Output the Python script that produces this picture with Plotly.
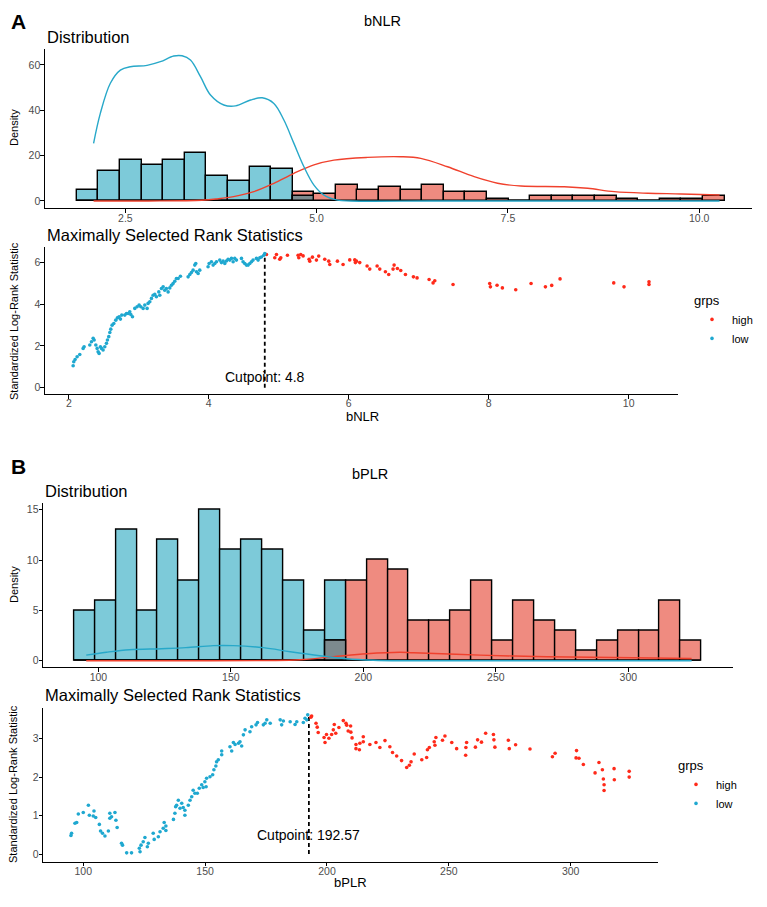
import plotly.graph_objects as go

W, H = 767, 907
OFF = 8                      # browser body margin
FW, FH = W - 2 * OFF, H - 2 * OFF

# ---------------- Panel A data (bNLR) ----------------
nlr_bin_centers = [2.006, 2.288, 2.571, 2.853, 3.135, 3.417, 3.699, 3.982, 4.264, 4.546,
                   4.828, 5.110, 5.393, 5.675, 5.957, 6.239, 6.521, 6.804, 7.086, 7.368,
                   7.650, 7.932, 8.215, 8.497, 8.779, 9.061, 9.343, 9.626, 9.908, 10.190]
nlr_bin_width = 0.2822
nlr_low_counts = [5, 13, 18, 16, 18, 21, 11, 9, 15, 14, 2, 0, 0, 0, 0, 0, 0, 0, 0, 0,
                  0, 0, 0, 0, 0, 0, 0, 0, 0, 0]
nlr_high_counts = [0, 0, 0, 0, 0, 0, 0, 0, 0, 0, 4, 3, 7, 5, 6, 5, 7, 4, 4, 1,
                   0, 2, 2, 2, 2, 1, 0, 1, 1, 2]

nlr_low_dens_x = [2.085, 2.173, 2.304, 2.435, 2.565, 2.784, 2.958, 3.132, 3.242, 3.351, 3.482,
                  3.613, 3.787, 3.940, 4.136, 4.289, 4.441, 4.572, 4.703, 4.834, 4.965, 5.096,
                  5.271, 5.445, 6.5, 8.0, 9.5, 10.266]
nlr_low_dens_y = [25.4, 38.6, 51.9, 57.7, 59.2, 59.8, 61.4, 63.9, 64.0, 62.1, 54.8,
                  46.7, 42.3, 41.9, 44.5, 45.5, 43.0, 35.7, 25.4, 15.1, 7.0, 2.6,
                  0.4, 0.0, 0.0, 0.0, 0.0, 0.0]
nlr_high_dens_x = [2.085, 2.8, 3.5, 3.7, 3.914, 4.179, 4.441, 4.703, 4.965, 5.226, 5.663, 6.099,
                   6.361, 6.711, 7.059, 7.365, 7.670, 8.237, 8.543, 8.891, 9.328, 9.764, 10.266]
nlr_high_dens_y = [0.0, 0.0, 0.3, 0.9, 1.9, 4.1, 7.8, 12.2, 15.9, 18.0, 19.2, 19.5,
                   18.8, 15.1, 10.7, 7.8, 6.6, 6.3, 5.6, 4.1, 3.4, 3.1, 2.6]

nlr_low_x = [2.062, 2.071, 2.09, 2.119, 2.157, 2.205, 2.219, 2.3, 2.324, 2.348, 2.362, 2.386,
             2.405, 2.419, 2.433, 2.452, 2.467, 2.49, 2.514, 2.538, 2.552, 2.571, 2.586, 2.6,
             2.619, 2.643, 2.671, 2.695, 2.719, 2.738, 2.757, 2.8, 2.824, 2.848, 2.871, 2.886,
             2.91, 2.943, 2.976, 3.005, 3.029, 3.062, 3.086, 3.119, 3.133, 3.157, 3.181, 3.205,
             3.229, 3.252, 3.286, 3.3, 3.324, 3.348, 3.371, 3.395, 3.419, 3.443, 3.467, 3.49,
             3.514, 3.538, 3.562, 3.595, 3.705, 3.729, 3.752, 3.776, 3.8, 3.814, 3.824, 3.848,
             3.871, 3.99, 4.005, 4.038, 4.062, 4.086, 4.11, 4.157, 4.181, 4.205, 4.229, 4.252,
             4.276, 4.3, 4.324, 4.348, 4.371, 4.395, 4.467, 4.49, 4.514, 4.538, 4.562, 4.586,
             4.61, 4.633, 4.681, 4.705, 4.729, 4.752, 4.786, 4.8]
nlr_low_y = [1.05, 1.24, 1.35, 1.48, 1.59, 1.88, 1.96, 2.04, 2.2, 2.36, 2.28, 2.04,
             1.88, 1.72, 1.64, 1.96, 1.88, 1.8, 1.96, 2.12, 2.28, 2.44, 2.64, 2.8,
             2.99, 3.07, 3.23, 3.34, 3.39, 3.28, 3.47, 3.47, 3.55, 3.55, 3.63, 3.5,
             3.39, 3.79, 3.87, 3.95, 3.87, 3.79, 3.95, 3.79, 4.03, 4.11, 4.27, 4.42,
             4.46, 4.35, 4.58, 4.42, 4.74, 4.82, 4.66, 4.74, 4.58, 4.77, 4.9, 4.98,
             5.09, 5.22, 5.22, 5.33, 5.3, 5.41, 5.51, 5.62, 5.86, 5.94, 5.54, 5.46,
             5.62, 5.78, 5.94, 6.02, 5.86, 5.94, 6.02, 6.1, 5.98, 6.05, 5.94, 6.06,
             6.14, 6.1, 6.18, 6.02, 6.18, 6.1, 6.18, 6.02, 5.94, 5.86, 5.86, 5.94,
             6.02, 6.1, 6.18, 6.1, 6.21, 6.25, 6.33, 6.41]
nlr_high_x = [4.824, 4.943, 4.967, 5.014, 5.029, 5.124, 5.276, 5.286, 5.314, 5.348, 5.433,
              5.443, 5.481, 5.538, 5.571, 5.657, 5.714, 5.729, 5.838, 5.919, 6.014, 6.086,
              6.095, 6.11, 6.157, 6.262, 6.3, 6.405, 6.443, 6.524, 6.571, 6.633, 6.648,
              6.695, 6.743, 6.81, 6.924, 6.976, 7.148, 7.205, 7.229, 7.49, 8.014, 8.024,
              8.119, 8.195, 8.386, 8.605, 8.81, 8.9, 9.019, 9.786, 9.933, 10.29, 10.29]
nlr_high_y = [6.37, 6.21, 6.37, 6.14, 6.21, 6.33, 6.33, 6.21, 6.37, 6.3, 6.14,
              6.05, 6.24, 6.1, 6.29, 6.14, 6.05, 5.89, 6.05, 5.89, 6.11, 6.11,
              5.98, 6.05, 5.98, 5.82, 5.67, 5.82, 5.67, 5.54, 5.41, 5.67, 5.86,
              5.7, 5.6, 5.41, 5.3, 5.25, 5.17, 5.01, 5.11, 4.93, 4.98, 4.82,
              4.9, 4.77, 4.68, 4.98, 4.82, 4.89, 5.2, 5.01, 4.82, 5.06, 4.93]
nlr_cutpoint = 4.8
nlr_cut_max = 6.41

# ---------------- Panel B data (bPLR) ----------------
plr_bin_centers = [94.78, 102.67, 110.56, 118.46, 126.35, 134.25, 142.14, 150.04, 157.93, 165.83,
                   173.72, 181.61, 189.51, 197.40, 205.30, 213.19, 221.09, 228.98, 236.88, 244.77,
                   252.66, 260.56, 268.45, 276.35, 284.24, 292.14, 300.03, 307.93, 315.82, 323.71]
plr_bin_width = 7.894
plr_low_counts = [5, 6, 13, 5, 12, 8, 15, 11, 12, 11, 8, 3, 8, 0, 0, 0, 0, 0, 0, 0,
                  0, 0, 0, 0, 0, 0, 0, 0, 0, 0]
plr_high_counts = [0, 0, 0, 0, 0, 0, 0, 0, 0, 0, 0, 0, 2, 8, 10, 9, 4, 4, 5, 8,
                   2, 6, 4, 3, 1, 2, 3, 3, 6, 2]

plr_low_dens_x = [95.4, 103.0, 111.7, 123.8, 133.0, 143.4, 150.9, 162.2, 172.4, 183.6, 193.7,
                  203.7, 215.0, 250.0, 290.0, 323.9]
plr_low_dens_y = [0.56, 0.85, 1.1, 1.2, 1.3, 1.5, 1.5, 1.3, 0.9, 0.5, 0.2,
                  0.05, 0.0, 0.0, 0.0, 0.0]
plr_high_dens_x = [95.4, 130.0, 165.0, 176.1, 188.6, 201.3, 213.8, 218.9, 244.0, 269.2, 294.3, 323.9]
plr_high_dens_y = [0.0, 0.0, 0.02, 0.1, 0.4, 0.7, 0.85, 0.8, 0.56, 0.4, 0.33, 0.23]

plr_low_x = [94.95, 95.2, 96.6, 97.3, 97.96, 100.0, 102.1, 102.5, 104.1, 104.4, 105.1, 106.6,
             107.1, 107.9, 108.9, 110.3, 110.9, 110.9, 111.6, 113.0, 113.4, 113.9, 115.7, 116.1,
             117.8, 119.8, 123.3, 123.0, 123.7, 124.6, 125.3, 126.3, 126.7, 128.7, 129.1, 130.8,
             131.5, 132.8, 133.2, 133.9, 133.9, 137.0, 137.6, 137.9, 138.3, 139.0, 139.7, 140.4,
             141.0, 141.7, 141.7, 143.1, 143.8, 144.5, 145.1, 145.8, 146.8, 147.6, 148.6, 149.2,
             149.9, 150.4, 150.6, 152.0, 153.1, 153.6, 154.4, 154.7, 155.4, 156.8, 156.8, 160.2,
             160.9, 161.6, 162.3, 163.7, 164.3, 165.0, 165.7, 166.4, 168.4, 169.1, 170.9, 171.5,
             173.9, 174.6, 175.3, 176.7, 180.8, 181.4, 182.1, 184.9, 186.9, 187.6, 190.3, 191.0,
             191.7, 192.1]
plr_low_y = [0.48, 0.54, 0.8, 0.82, 1.04, 1.08, 1.27, 1.01, 0.99, 1.12, 0.95, 0.77,
             0.6, 0.54, 0.47, 0.6, 1.06, 0.93, 0.97, 1.08, 0.88, 0.69, 0.28, 0.23,
             0.03, 0.03, 0.06, 0.15, 0.23, 0.32, 0.43, 0.19, 0.28, 0.54, 0.38, 0.45,
             0.58, 0.67, 0.82, 0.73, 0.61, 0.9, 1.06, 1.23, 1.27, 1.4, 1.19, 1.32,
             1.21, 1.01, 1.14, 1.27, 1.4, 1.49, 1.66, 1.58, 1.58, 1.71, 1.8, 1.73,
             1.88, 1.75, 1.97, 2.01, 2.06, 2.19, 2.29, 2.4, 2.45, 2.58, 2.68, 2.79,
             2.68, 2.9, 2.85, 2.88, 2.92, 2.81, 3.1, 3.23, 3.18, 3.31, 3.36, 3.42,
             3.36, 3.4, 3.49, 3.4, 3.49, 3.36, 3.46, 3.44, 3.37, 3.44, 3.42, 3.53,
             3.49, 3.62]
plr_high_x = [193.4, 193.7, 195.5, 196.0, 196.4, 198.8, 199.2, 199.8, 200.8, 201.9, 202.6, 203.0,
              203.6, 204.9, 206.7, 207.8, 208.1, 208.7, 209.7, 209.8, 210.3, 211.9, 211.9, 213.3,
              213.5, 214.9, 214.9, 217.6, 220.1, 221.7, 223.8, 225.8, 226.9, 228.6, 230.6, 232.7,
              233.8, 234.5, 235.8, 238.9, 240.9, 241.2, 242.0, 244.0, 244.3, 244.7, 247.4, 248.4,
              251.2, 253.2, 256.9, 257.0, 257.3, 260.9, 261.8, 263.4, 265.1, 268.3, 268.5, 268.9,
              274.4, 274.8, 277.4, 283.3, 292.5, 293.6, 302.4, 302.2, 303.4, 305.2, 310.0, 311.6,
              313.0, 313.4, 313.7, 313.7, 317.8, 317.9, 324.0, 324.0]
plr_high_y = [3.56, 3.59, 3.4, 3.3, 3.16, 3.03, 2.9, 3.11, 3.01, 3.11, 3.23, 3.37,
              3.14, 3.29, 3.47, 3.4, 3.35, 3.2, 3.33, 3.17, 3.02, 2.85, 2.74, 2.71,
              2.88, 3.05, 2.92, 2.85, 2.9, 2.77, 2.95, 2.79, 2.64, 2.55, 2.43, 2.25,
              2.31, 2.4, 2.6, 2.45, 2.51, 2.71, 2.77, 2.92, 2.83, 3.03, 2.96, 3.07,
              2.9, 2.74, 2.57, 2.77, 2.9, 2.78, 2.97, 2.91, 3.14, 3.11, 2.97, 2.78,
              2.96, 2.74, 2.84, 2.73, 2.53, 2.62, 2.69, 2.5, 2.49, 2.33, 2.11, 2.38,
              2.19, 1.95, 1.8, 1.65, 2.22, 1.93, 2.15, 2.0]
plr_cutpoint = 192.57
plr_cut_max = 3.62

# ---------------- styling ----------------
FONT = "Liberation Sans, Arial, sans-serif"
NARROW = "Liberation Sans Narrow, Liberation Sans, Arial, sans-serif"
BLUE_FILL = "#7DCAD9"
RED_FILL = "#EF8B80"
GREY_FILL = "#7C8A8E"
BLUE_LINE = "#27A8C9"
RED_LINE = "#F0412D"
BLUE_PT = "#1FA8D0"
RED_PT = "#FF2A1A"

fig = go.Figure()


def hist_traces(xa, ya, centers, width, low, high):
    fig.add_trace(go.Bar(x=centers, y=low, width=width, marker=dict(color=BLUE_FILL, line=dict(color="black", width=1.4)),
                         xaxis=xa, yaxis=ya, showlegend=False, hoverinfo="skip"))
    fig.add_trace(go.Bar(x=centers, y=high, width=width, marker=dict(color=RED_FILL, line=dict(color="black", width=1.4)),
                         xaxis=xa, yaxis=ya, showlegend=False, hoverinfo="skip"))
    ov_x = [c for c, a, b in zip(centers, low, high) if a > 0 and b > 0]
    ov_y = [min(a, b) for a, b in zip(low, high) if a > 0 and b > 0]
    fig.add_trace(go.Bar(x=ov_x, y=ov_y, width=width, marker=dict(color=GREY_FILL, line=dict(color="black", width=1.4)),
                         xaxis=xa, yaxis=ya, showlegend=False, hoverinfo="skip"))


hist_traces("x", "y", nlr_bin_centers, nlr_bin_width, nlr_low_counts, nlr_high_counts)
fig.add_trace(go.Scatter(x=nlr_high_dens_x, y=nlr_high_dens_y, mode="lines", line=dict(color=RED_LINE, width=1.4, shape="spline"),
                         xaxis="x", yaxis="y", showlegend=False))
fig.add_trace(go.Scatter(x=nlr_low_dens_x, y=nlr_low_dens_y, mode="lines", line=dict(color=BLUE_LINE, width=1.4, shape="spline"),
                         xaxis="x", yaxis="y", showlegend=False))

hist_traces("x3", "y3", plr_bin_centers, plr_bin_width, plr_low_counts, plr_high_counts)
fig.add_trace(go.Scatter(x=plr_high_dens_x, y=plr_high_dens_y, mode="lines", line=dict(color=RED_LINE, width=1.4, shape="spline"),
                         xaxis="x3", yaxis="y3", showlegend=False))
fig.add_trace(go.Scatter(x=plr_low_dens_x, y=plr_low_dens_y, mode="lines", line=dict(color=BLUE_LINE, width=1.4, shape="spline"),
                         xaxis="x3", yaxis="y3", showlegend=False))

# scatter panels
for xa, ya, lg, hx, hy, lx, ly, cut, cmax in [
        ("x2", "y2", "legend", nlr_high_x, nlr_high_y, nlr_low_x, nlr_low_y, nlr_cutpoint, nlr_cut_max),
        ("x4", "y4", "legend2", plr_high_x, plr_high_y, plr_low_x, plr_low_y, plr_cutpoint, plr_cut_max)]:
    fig.add_trace(go.Scatter(x=[cut, cut], y=[0, cmax], mode="lines", line=dict(color="black", width=1.8, dash="4px,3px"),
                             xaxis=xa, yaxis=ya, showlegend=False, hoverinfo="skip"))
    fig.add_trace(go.Scatter(x=hx, y=hy, mode="markers", name="high", marker=dict(color=RED_PT, size=3.6),
                             xaxis=xa, yaxis=ya, legend=lg))
    fig.add_trace(go.Scatter(x=lx, y=ly, mode="markers", name="low", marker=dict(color=BLUE_PT, size=3.6),
                             xaxis=xa, yaxis=ya, legend=lg))


def px_x(p):
    return (p - OFF) / FW


def px_y(p):
    return 1 - (p - OFF) / FH


def dx(l, r):
    return [px_x(l), px_x(r)]


def dy(t, b):
    return [px_y(b), px_y(t)]


axis_common = dict(showline=True, linecolor="black", linewidth=1.3, ticks="outside", ticklen=3.5,
                   tickwidth=1.2, tickcolor="black", showgrid=False, zeroline=False,
                   tickfont=dict(family=FONT, size=10.5, color="#4D4D4D"), fixedrange=True)
xax = dict(ticklabelstandoff=-3, **axis_common)
xax2 = dict(ticklabelstandoff=-4, **axis_common)
yax = dict(ticklabelstandoff=-2, **axis_common)

fig.update_layout(
    width=FW, height=FH, margin=dict(l=0, r=0, t=0, b=0),
    paper_bgcolor="white", plot_bgcolor="white",
    barmode="overlay", bargap=0,
    font=dict(family=FONT, color="black"),
    xaxis=dict(domain=dx(45, 752), range=[1.45, 10.69], tickvals=[2.5, 5.0, 7.5, 10.0],
               ticktext=["2.5", "5.0", "7.5", "10.0"], anchor="y", **xax),
    yaxis=dict(domain=dy(49, 208), range=[-3.1, 67], tickvals=[0, 20, 40, 60], anchor="x", **yax),
    xaxis2=dict(domain=dx(45, 677.7), range=[1.66, 10.7], tickvals=[2, 4, 6, 8, 10], anchor="y2", **xax2),
    yaxis2=dict(domain=dy(246.7, 394), range=[-0.3, 6.74], tickvals=[0, 2, 4, 6], anchor="x2", **yax),
    xaxis3=dict(domain=dx(43.3, 732.7), range=[79.2, 339.4], tickvals=[100, 150, 200, 250, 300], anchor="y3", **xax),
    yaxis3=dict(domain=dy(502.7, 667), range=[-0.62, 15.7], tickvals=[0, 5, 10, 15], anchor="x3", **yax),
    xaxis4=dict(domain=dx(43.3, 657.7), range=[83.6, 335.7], tickvals=[100, 150, 200, 250, 300], anchor="y4", **xax2),
    yaxis4=dict(domain=dy(708.3, 861.7), range=[-0.2, 3.79], tickvals=[0, 1, 2, 3], anchor="x4", **yax),
    legend=dict(x=px_x(692), y=px_y(288), xanchor="left", yanchor="top", bgcolor="rgba(0,0,0,0)",
                title=dict(text="grps", font=dict(size=13, family=FONT)), font=dict(size=11, family=FONT),
                itemwidth=30, tracegroupgap=0),
    legend2=dict(x=px_x(676), y=px_y(753), xanchor="left", yanchor="top", bgcolor="rgba(0,0,0,0)",
                 title=dict(text="grps", font=dict(size=13, family=FONT)), font=dict(size=11, family=FONT),
                 itemwidth=30, tracegroupgap=0),
)


def ann(text, x, y, size, xanchor="center", angle=0, bold=False, family=FONT, yanchor="middle"):
    t = f"<b>{text}</b>" if bold else text
    fig.add_annotation(text=t, x=px_x(x), y=px_y(y), xref="paper", yref="paper", showarrow=False,
                       xanchor=xanchor, yanchor=yanchor, textangle=angle,
                       font=dict(size=size, family=family, color="black"))


ann("A", 9, 8, 21, bold=True, xanchor="left", yanchor="top")
ann("bNLR", 382, 21, 14.5)
ann("Distribution", 45, 37, 16.5, xanchor="left")
ann("Density", 14, 128, 11, angle=-90, family=NARROW)
ann("Maximally Selected Rank Statistics", 45, 235, 16.5, xanchor="left")
ann("Standardized Log-Rank Statistic", 14, 321, 11, angle=-90, family=NARROW)
ann("bNLR", 362, 416, 13)

ann("B", 18, 466, 21, bold=True)
ann("bPLR", 370, 474, 14.5)
ann("Distribution", 43, 491, 16.5, xanchor="left")
ann("Density", 14, 585, 11, angle=-90, family=NARROW)
ann("Maximally Selected Rank Statistics", 43, 695, 16.5, xanchor="left")
ann("Standardized Log-Rank Statistic", 13, 784, 11, angle=-90, family=NARROW)
ann("bPLR", 350, 882, 13)

fig.add_annotation(text=f"Cutpoint: {nlr_cutpoint}", x=nlr_cutpoint, y=0.5, xref="x2", yref="y2", showarrow=False,
                   font=dict(size=14, family=FONT, color="black"))
fig.add_annotation(text=f"Cutpoint: {plr_cutpoint}", x=plr_cutpoint, y=0.49, xref="x4", yref="y4", showarrow=False,
                   font=dict(size=14, family=FONT, color="black"))

fig.write_html("out.html")
